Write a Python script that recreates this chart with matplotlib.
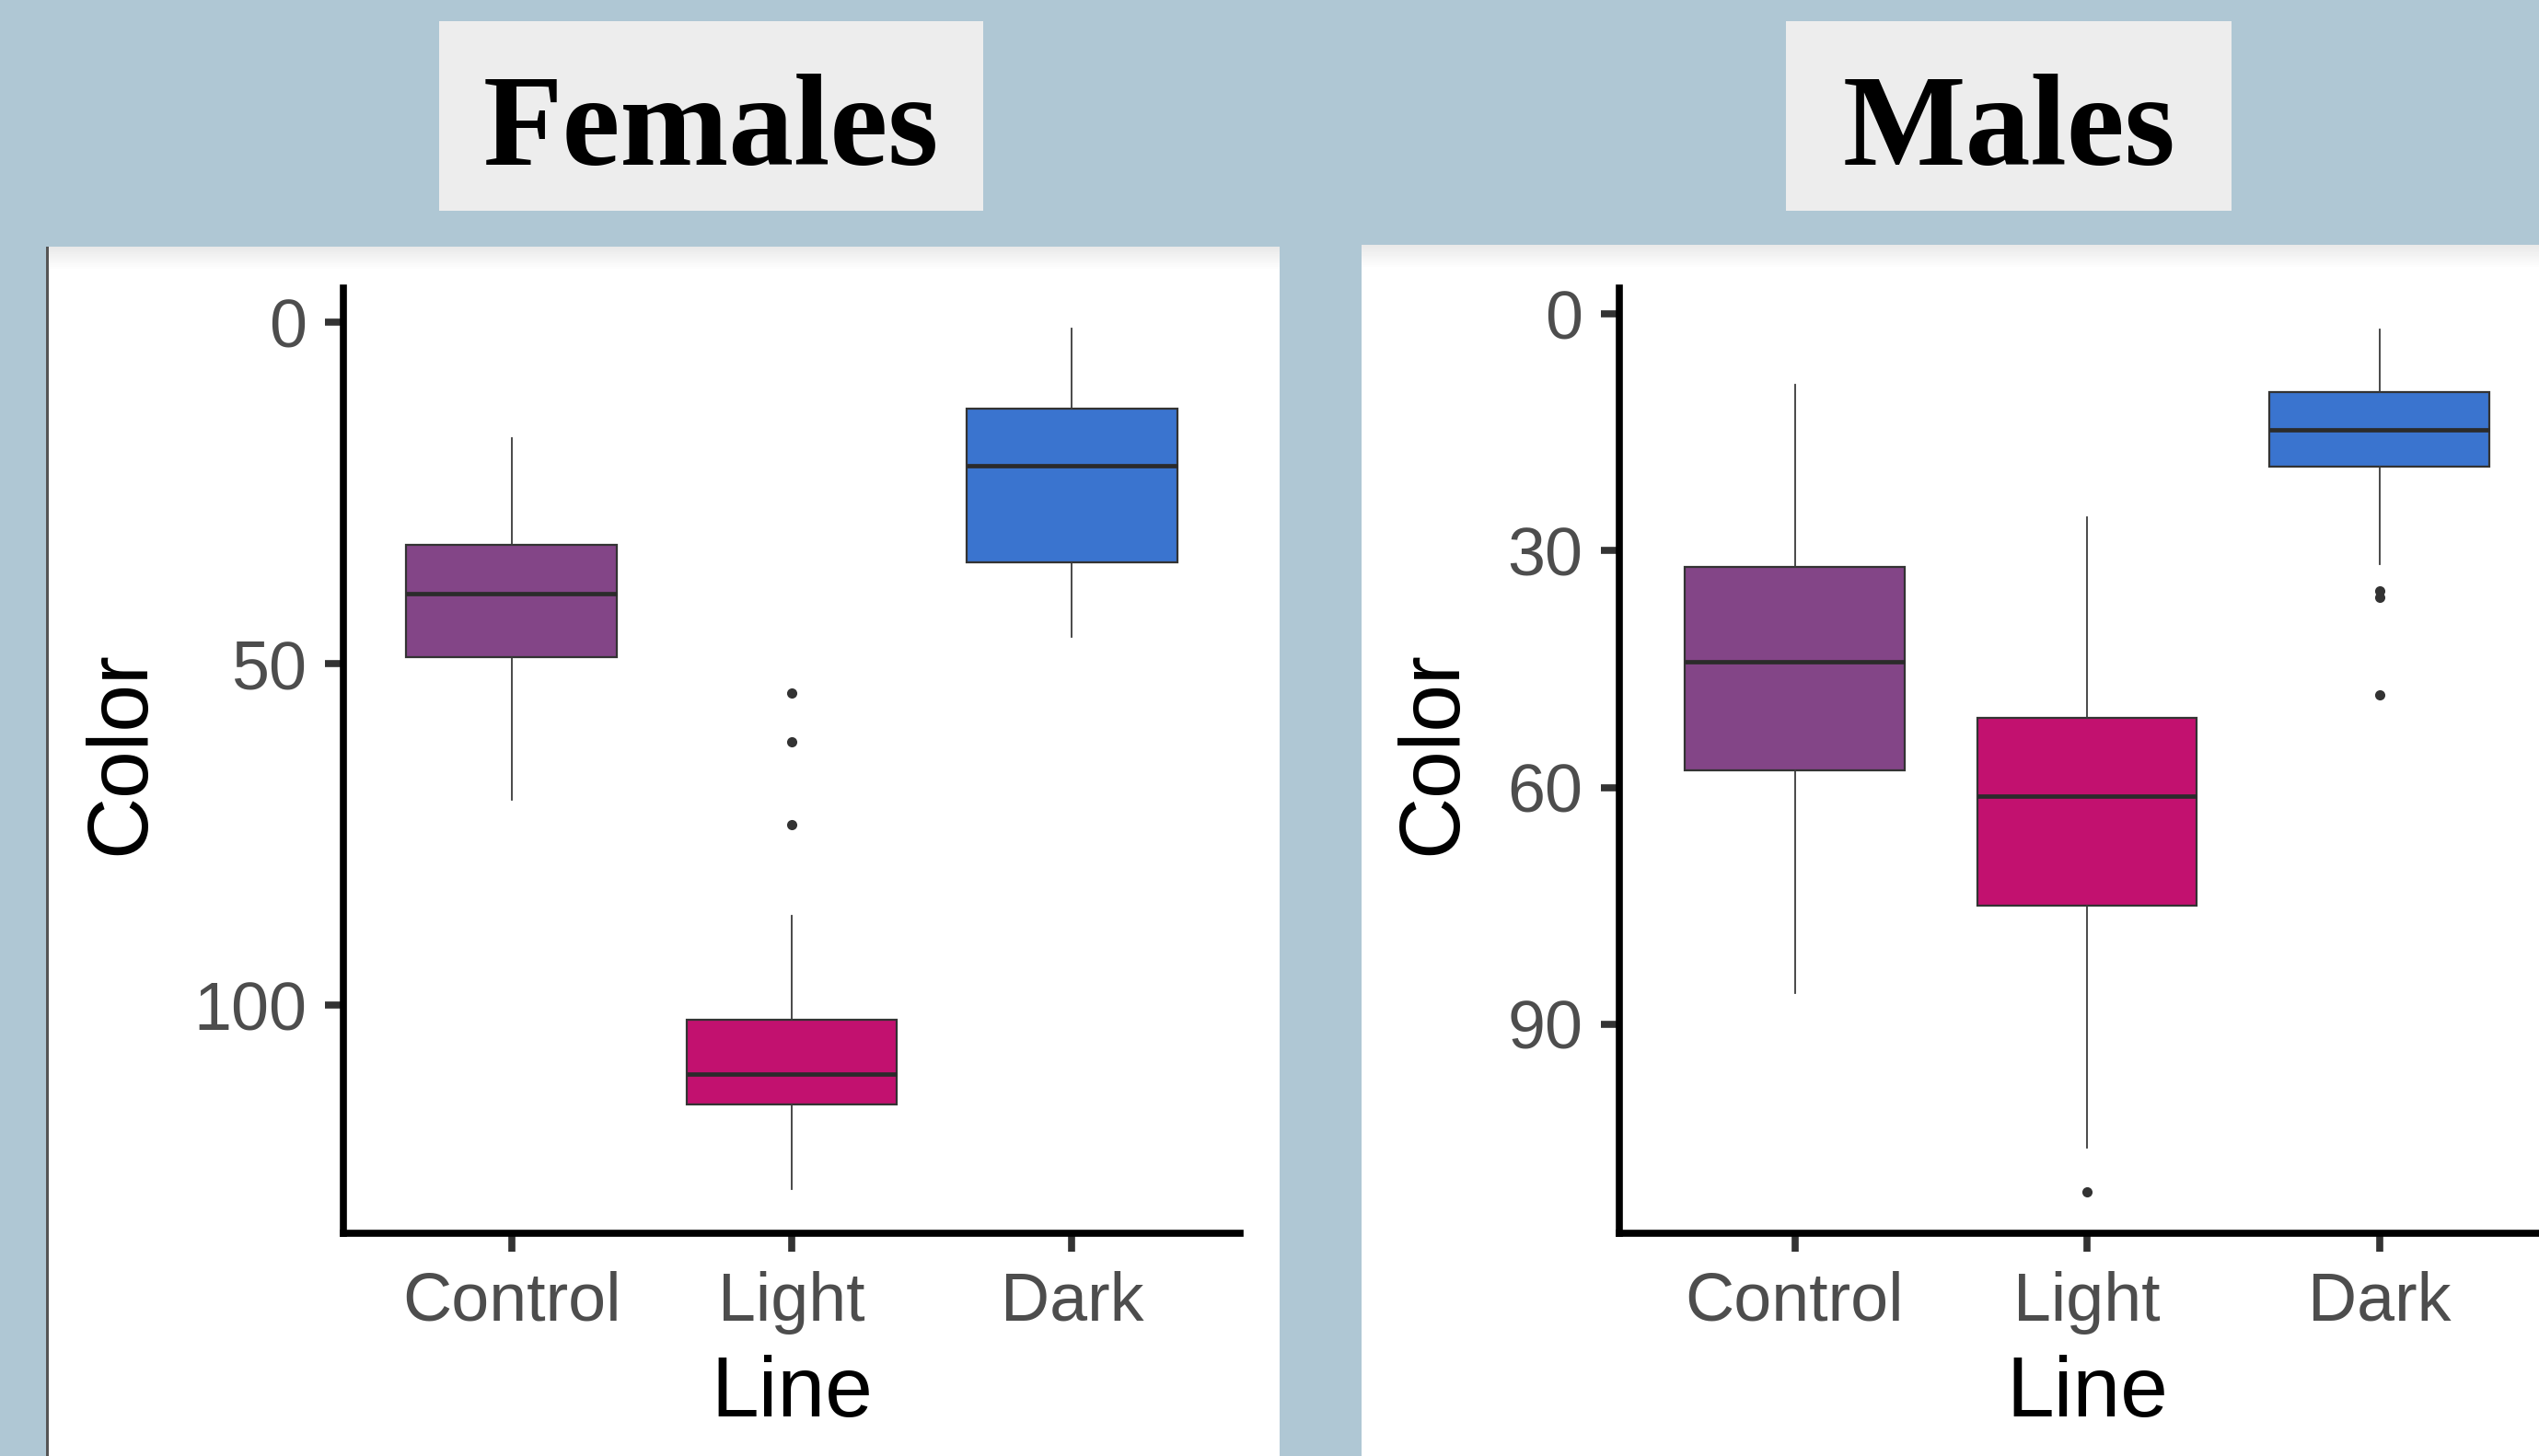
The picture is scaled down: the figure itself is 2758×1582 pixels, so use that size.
import matplotlib.pyplot as plt
from matplotlib.patches import Rectangle

# Values (Color score by selection line)
lines = ['Control', 'Light', 'Dark']
box_colors = ['#834587', '#C2116F', '#3A74CF']

fem_whislo = [17.0, 86.9, 0.9]
fem_q1 = [32.6, 102.1, 12.7]
fem_med = [39.7, 110.1, 21.0]
fem_q3 = [49.1, 114.6, 35.1]
fem_whishi = [69.9, 126.9, 46.1]
fem_fliers = [[], [54.3, 61.4, 73.6], []]
fem_ticks = [0, 50, 100]

male_whislo = [8.9, 25.7, 1.9]
male_q1 = [32.1, 51.2, 9.9]
male_med = [44.1, 61.1, 14.7]
male_q3 = [57.8, 75.0, 19.3]
male_whishi = [86.0, 105.6, 31.7]
male_fliers = [[], [111.2], [35.1, 35.9, 48.3]]
male_ticks = [0, 30, 60, 90]

W, H = 2758, 1582
BG = '#AFC7D4'

plt.rcParams['font.family'] = ['Liberation Sans', 'DejaVu Sans']


def fig_rect(x0, y0, x1, y1):
    # pixel box (top-left origin) -> figure fraction [left, bottom, width, height]
    return [x0 / W, 1 - y1 / H, (x1 - x0) / W, (y1 - y0) / H]


def add_box(fig, x0, y0, x1, y1, color, z=-2):
    l, b, w, h = fig_rect(x0, y0, x1, y1)
    fig.add_artist(Rectangle((l, b), w, h, transform=fig.transFigure,
                             facecolor=color, edgecolor='none', zorder=z))


def white_panel(fig, x0, y0, x1, y1):
    add_box(fig, x0, y0, x1, y1, 'white')
    # soft grey shade along the top edge
    n = 12
    for i in range(n):
        g = 0.915 + 0.085 * i / n
        add_box(fig, x0, y0 + i * 2, x1, y0 + i * 2 + 2, (g, g, g), z=-1.5)


def title_box(fig, x0, y0, x1, y1, text, base):
    add_box(fig, x0, y0, x1, y1, '#EDEDED')
    fig.text((x0 + x1) / 2 / W, 1 - base / H, text, ha='center', va='baseline',
             family='Liberation Serif', fontweight='bold', fontsize=102,
             color='black')


def draw_panel(ax, whislo, q1, med, q3, whishi, fliers, ticks, ylim, ylab_x):
    stats = []
    for i in range(len(lines)):
        stats.append({'whislo': whislo[i], 'q1': q1[i], 'med': med[i],
                      'q3': q3[i], 'whishi': whishi[i], 'fliers': fliers[i]})
    bp = ax.bxp(stats, positions=[1, 2, 3], widths=0.75, patch_artist=True,
                showcaps=False,
                boxprops=dict(edgecolor='#333333', linewidth=1.6),
                medianprops=dict(color='#2B2B2B', linewidth=3.4),
                whiskerprops=dict(color='#3A3A3A', linewidth=1.3),
                flierprops=dict(marker='o', markersize=8, markerfacecolor='#333333',
                                markeredgecolor='none'))
    for patch, c in zip(bp['boxes'], box_colors):
        patch.set_facecolor(c)

    ax.set_facecolor('none')
    ax.set_xlim(0.4, 3.6)
    ax.set_ylim(ylim)
    ax.set_xticks([1, 2, 3])
    ax.set_xticklabels(lines)
    ax.set_yticks(ticks)
    for side in ['top', 'right']:
        ax.spines[side].set_visible(False)
    for side in ['left', 'bottom']:
        ax.spines[side].set_linewidth(5.5)
        ax.spines[side].set_color('black')
    ax.tick_params(length=14.5, width=5.5, color='#333333', labelsize=53,
                   labelcolor='#4D4D4D')
    ax.tick_params(axis='y', pad=14)
    ax.tick_params(axis='x', pad=15)

    ax.set_xlabel('Line', fontsize=67, color='black')
    ax.set_ylabel('Color', fontsize=67, color='black')
    ax.xaxis.label.set_va('center')
    ax.yaxis.label.set_va('center')
    ax.xaxis.set_label_coords(0.5, -0.170)
    ax.yaxis.set_label_coords(ylab_x, 0.508)


fig = plt.figure(figsize=(W / 100, H / 100), dpi=100, facecolor=BG)

# white panels behind each plot
white_panel(fig, 50, 268, 1390, 1582)
add_box(fig, 50, 268, 53, 1582, '#555555', z=-1)
white_panel(fig, 1479, 266, 2758, 1582)

# strip titles
title_box(fig, 477, 23, 1068, 229, 'Females', 179)
title_box(fig, 1940, 23, 2424, 229, 'Males', 179)

ax1 = fig.add_axes(fig_rect(373, 313, 1347, 1340))
draw_panel(ax1, fem_whislo, fem_q1, fem_med, fem_q3, fem_whishi, fem_fliers,
           fem_ticks, (133.4, -5.0), -0.247)

ax2 = fig.add_axes(fig_rect(1759, 313, 2775, 1340))
draw_panel(ax2, male_whislo, male_q1, male_med, male_q3, male_whishi, male_fliers,
           male_ticks, (116.5, -3.3), -0.199)

fig.savefig('out.png', dpi=100, facecolor=BG)
